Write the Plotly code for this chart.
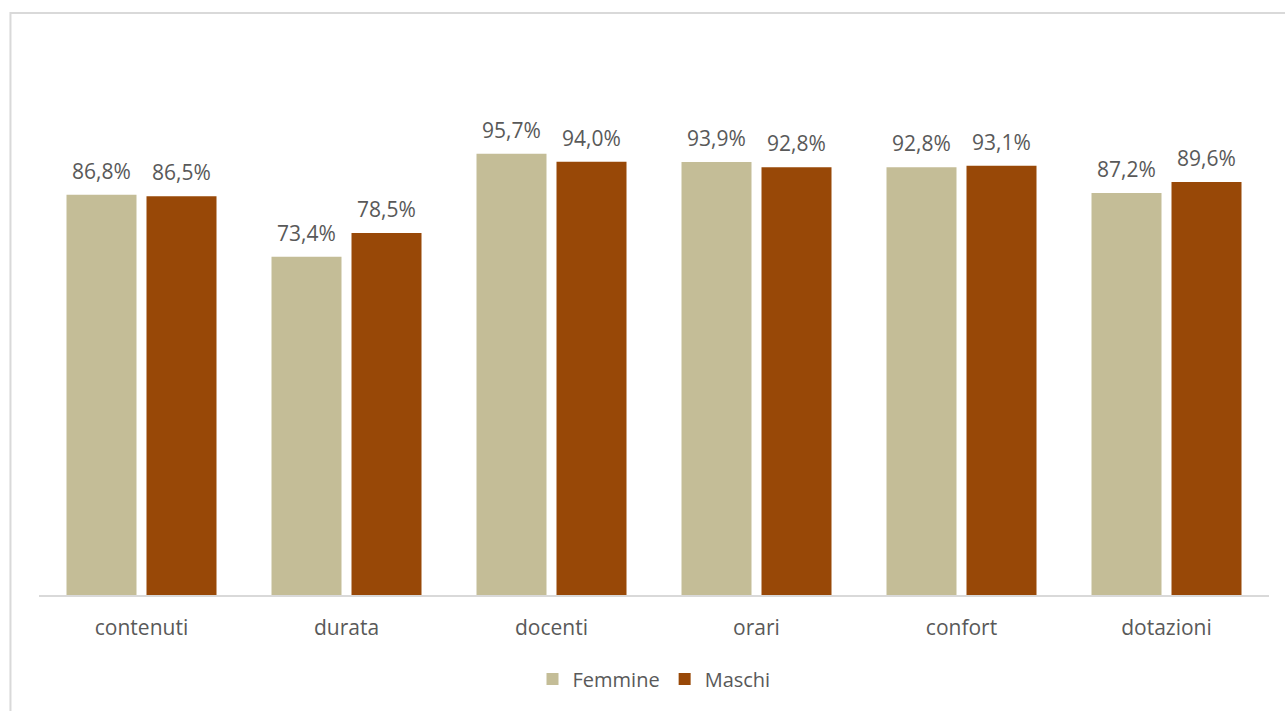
import plotly.graph_objects as go

categories = ["contenuti", "durata", "docenti", "orari", "confort", "dotazioni"]
femmine = [86.8, 73.4, 95.7, 93.9, 92.8, 87.2]
maschi = [86.5, 78.5, 94.0, 92.8, 93.1, 89.6]

col_f = "#C4BD97"
col_m = "#984807"
text_col = "#595959"
font_family = "Open Sans, Noto Sans, sans-serif"


def pct(v):
    return f"{v:.1f}%".replace(".", ",")


fig = go.Figure()
fig.add_trace(go.Bar(name="Femmine", x=categories, y=femmine, marker_color=col_f,
                     marker_line_width=0))
fig.add_trace(go.Bar(name="Maschi", x=categories, y=maschi, marker_color=col_m,
                     marker_line_width=0))

# value labels above each bar (left bar = Femmine, right bar = Maschi)
for series, shift in ((femmine, -40), (maschi, 40)):
    for cat, v in zip(categories, series):
        fig.add_annotation(x=cat, y=v, text=pct(v), showarrow=False,
                           xshift=shift, yshift=8, yanchor="bottom",
                           font=dict(size=21, color=text_col, family=font_family))

fig.update_layout(
    width=1285, height=711,
    margin=dict(l=39, r=16, t=134, b=116),
    paper_bgcolor="white", plot_bgcolor="white",
    barmode="group", bargap=0.2195, bargroupgap=0.125,
    font=dict(family=font_family, color=text_col, size=21),
    showlegend=True,
    legend=dict(orientation="h", x=0.5, xanchor="center", y=-0.182, yanchor="middle",
                font=dict(size=20, color=text_col), itemwidth=30, traceorder="normal"),
    xaxis=dict(showline=True, linecolor="#D9D9D9", linewidth=1.5, ticks="",
               tickfont=dict(size=21, color=text_col), ticklabelstandoff=13,
               showgrid=False, zeroline=False),
    yaxis=dict(range=[0, 100], visible=False, showgrid=False, zeroline=False),
)

# outer chart frame
fig.add_shape(type="rect", xref="paper", yref="paper",
              x0=-0.0232, x1=1.03, y0=-0.3, y1=1.2625,
              line=dict(color="#D9D9D9", width=2), fillcolor="rgba(0,0,0,0)", layer="below")

fig.write_html("out.html")
